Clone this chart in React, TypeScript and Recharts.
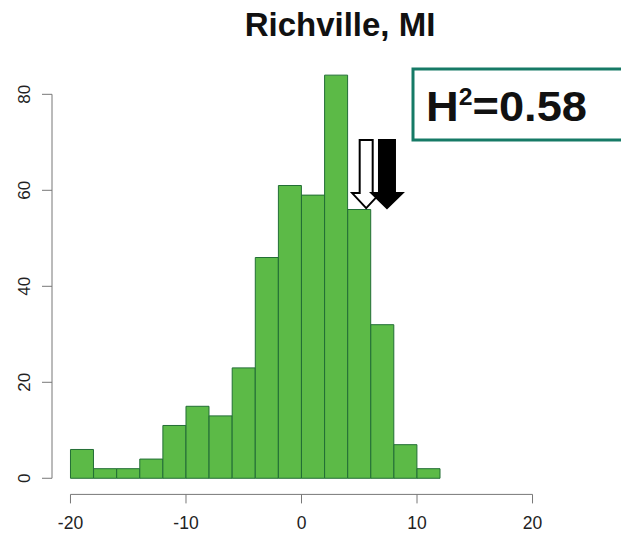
import { Bar, ComposedChart, ReferenceDot, ReferenceLine, XAxis, YAxis } from "recharts"

// histogram bins (width 2), counts
const binStarts = [-20, -18, -16, -14, -12, -10, -8, -6, -4, -2, 0, 2, 4, 6, 8, 10]
const counts = [6, 2, 2, 4, 11, 15, 13, 23, 46, 61, 59, 84, 56, 32, 7, 2]
const binWidth = 2

const xTicks = [-20, -10, 0, 10, 20]
const yTicks = [0, 20, 40, 60, 80]

// arrows: white = first mean, black = second mean
const arrowX = [5.6, 7.4]
const arrowTip = 56.3

const title = "Richville, MI"
const h2Value = "0.58"

// R style axes: 4% padding around the limits
const xDomain = [-21.6, 21.6]
const yDomain = [-3.36, 87.36]

const histData = binStarts.map((s, i) => ({ mid: s + binWidth / 2, count: counts[i] }))

const font = "'Liberation Sans', Arial, Helvetica, sans-serif"

const YTick = (props: any) => {
    const { x, y, payload } = props
    return (
        <text
            x={x}
            y={y}
            transform={`rotate(-90, ${x}, ${y})`}
            textAnchor="middle"
            fontSize={17}
            fontFamily={font}
            fill="#222"
        >
            {payload.value}
        </text>
    )
}

const XTick = (props: any) => {
    const { x, y, payload } = props
    return (
        <text x={x} y={y} dy={12} textAnchor="middle" fontSize={17.5} fontFamily={font} fill="#222">
            {payload.value}
        </text>
    )
}

const arrowShape = (filled: boolean) => (props: any) => {
    const { cx, cy } = props
    const shaft = filled ? 16 : 13
    const head = filled ? 31 : 28
    const headH = 15
    const len = 68
    const pts = [
        [cx - shaft / 2, cy - len],
        [cx + shaft / 2, cy - len],
        [cx + shaft / 2, cy - headH],
        [cx + head / 2, cy - headH],
        [cx, cy],
        [cx - head / 2, cy - headH],
        [cx - shaft / 2, cy - headH],
    ]
    return (
        <polygon
            points={pts.map((p) => p.join(",")).join(" ")}
            fill={filled ? "#000" : "#fff"}
            stroke="#000"
            strokeWidth={2}
        />
    )
}

export default function App() {
    return (
        <div style={{ position: "absolute", left: 0, top: 0, width: 621, height: 533, background: "#fff" }}>
            <svg width={621} height={533} style={{ position: "absolute", left: 0, top: 0 }}>
                <text x={340} y={36} textAnchor="middle" fontSize={33} fontWeight="bold" fontFamily={font} fill="#111">
                    {title}
                </text>
                <rect x={413} y={69} width={240} height={71} fill="#fff" stroke="#167a66" strokeWidth={3} />
                <text
                    x={426}
                    y={121}
                    fontSize={42}
                    fontWeight="bold"
                    fontFamily={font}
                    fill="#111"
                    textLength={161}
                    lengthAdjust="spacingAndGlyphs"
                >
                    H
                    <tspan fontSize={23} dy={-16}>2</tspan>
                    <tspan dy={16}>={h2Value}</tspan>
                </text>
            </svg>
            <div style={{ position: "absolute", left: 0, top: 0 }}>
                <ComposedChart
                    width={621}
                    height={533}
                    data={histData}
                    barCategoryGap={0}
                    barGap={0}
                    margin={{ top: 59, right: 70, bottom: 8.6, left: 12 }}
                >
                    <XAxis
                        dataKey="mid"
                        type="number"
                        domain={xDomain}
                        ticks={xTicks}
                        allowDataOverflow
                        axisLine={false}
                        tickLine={{ stroke: "#777" }}
                        tickSize={9}
                        tickMargin={14}
                        height={30}
                        tick={<XTick />}
                        interval={0}
                    />
                    <YAxis
                        type="number"
                        domain={yDomain}
                        ticks={yTicks}
                        allowDataOverflow
                        axisLine={false}
                        tickLine={{ stroke: "#777" }}
                        tickSize={10}
                        tickMargin={12}
                        width={40}
                        tick={<YTick />}
                        interval={0}
                    />
                    <Bar dataKey="count" fill="#5cba47" stroke="#226e35" strokeWidth={1} isAnimationActive={false} />
                    <ReferenceLine
                        segment={[{ x: xTicks[0], y: yDomain[0] }, { x: xTicks[xTicks.length - 1], y: yDomain[0] }]}
                        stroke="#777"
                        ifOverflow="visible"
                    />
                    <ReferenceLine
                        segment={[{ x: xDomain[0], y: yTicks[0] }, { x: xDomain[0], y: yTicks[yTicks.length - 1] }]}
                        stroke="#777"
                        ifOverflow="visible"
                    />
                    <ReferenceDot x={arrowX[0]} y={arrowTip} r={0} ifOverflow="visible" shape={arrowShape(false)} />
                    <ReferenceDot x={arrowX[1]} y={arrowTip} r={0} ifOverflow="visible" shape={arrowShape(true)} />
                </ComposedChart>
            </div>
        </div>
    )
}
